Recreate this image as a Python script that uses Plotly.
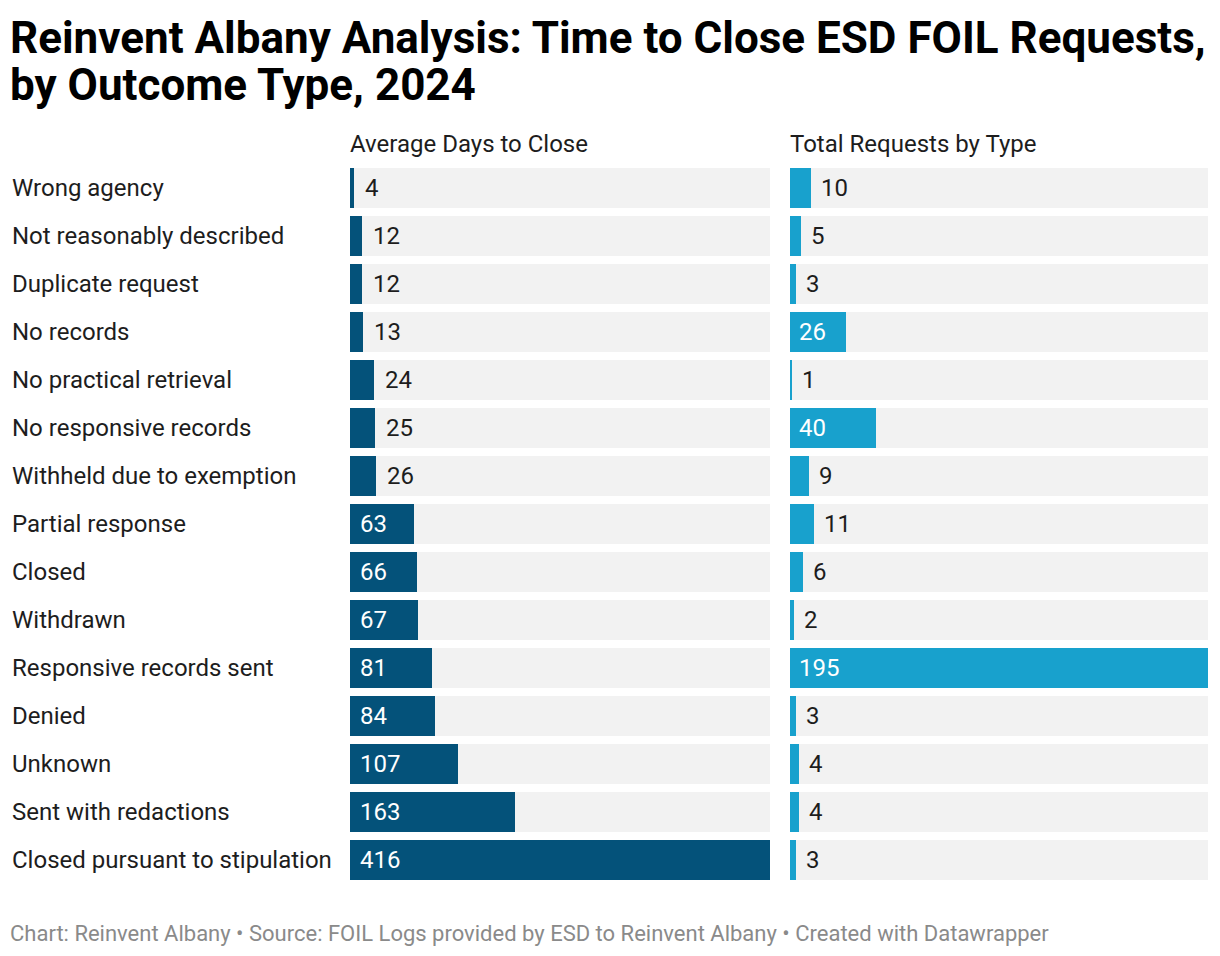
import plotly.graph_objects as go

categories = ["Wrong agency", "Not reasonably described", "Duplicate request", "No records",
              "No practical retrieval", "No responsive records", "Withheld due to exemption",
              "Partial response", "Closed", "Withdrawn", "Responsive records sent", "Denied",
              "Unknown", "Sent with redactions", "Closed pursuant to stipulation"]
avg_days = [4, 12, 12, 13, 24, 25, 26, 63, 66, 67, 81, 84, 107, 163, 416]
total_requests = [10, 5, 3, 26, 1, 40, 9, 11, 6, 2, 195, 3, 4, 4, 3]

DARK = "#04527a"
LIGHT = "#18a1cd"
BG = "#f2f2f2"
TXT = "#1d1d1d"
FONT = "Roboto"
LSIZE = 24

W, H = 1220, 956
fig = go.Figure()

y_top_px, y_bot_px = 164, 884
ydom = [1 - y_bot_px / H, 1 - y_top_px / H]
x1dom = [350 / W, 770 / W]
x2dom = [790 / W, 1208 / W]

max1 = max(avg_days)
max2 = max(total_requests)

fig.add_trace(go.Bar(y=categories, x=[max1] * len(categories), orientation="h",
                     marker=dict(color=BG, line=dict(width=0)), width=0.833,
                     xaxis="x", yaxis="y", hoverinfo="skip", showlegend=False))
fig.add_trace(go.Bar(y=categories, x=avg_days, orientation="h",
                     marker=dict(color=DARK, line=dict(width=0)), width=0.833,
                     xaxis="x", yaxis="y", showlegend=False))
fig.add_trace(go.Bar(y=categories, x=[max2] * len(categories), orientation="h",
                     marker=dict(color=BG, line=dict(width=0)), width=0.833,
                     xaxis="x2", yaxis="y2", hoverinfo="skip", showlegend=False))
fig.add_trace(go.Bar(y=categories, x=total_requests, orientation="h",
                     marker=dict(color=LIGHT, line=dict(width=0)), width=0.833,
                     xaxis="x2", yaxis="y2", showlegend=False))

annotations = []
for cat, v in zip(categories, avg_days):
    inside = v / max1 * 420 > 45
    annotations.append(dict(x=0 if inside else v, y=cat, xref="x", yref="y",
                            text=str(v), showarrow=False, xanchor="left",
                            xshift=8 if inside else 9,
                            font=dict(family=FONT, size=LSIZE, color="white" if inside else TXT)))
for cat, v in zip(categories, total_requests):
    inside = v / max2 * 418 > 45
    annotations.append(dict(x=0 if inside else v, y=cat, xref="x2", yref="y2",
                            text=str(v), showarrow=False, xanchor="left",
                            xshift=7 if inside else 8,
                            font=dict(family=FONT, size=LSIZE, color="white" if inside else TXT)))
for cat in categories:
    annotations.append(dict(x=10 / W, y=cat, xref="paper", yref="y", text=cat,
                            showarrow=False, xanchor="left",
                            font=dict(family=FONT, size=LSIZE, color=TXT)))

annotations += [
    dict(x=8 / W, y=1 - 38 / H, xref="paper", yref="paper", xanchor="left", yanchor="middle",
         showarrow=False, text="<b>Reinvent Albany Analysis: Time to Close ESD FOIL Requests,</b>",
         font=dict(family=FONT, size=44, color="#000000")),
    dict(x=8 / W, y=1 - 85 / H, xref="paper", yref="paper", xanchor="left", yanchor="middle",
         showarrow=False, text="<b>by Outcome Type, 2024</b>",
         font=dict(family=FONT, size=44, color="#000000")),
    dict(x=348 / W, y=1 - 144 / H, xref="paper", yref="paper", xanchor="left", yanchor="middle",
         showarrow=False, text="Average Days to Close",
         font=dict(family=FONT, size=LSIZE, color=TXT)),
    dict(x=788 / W, y=1 - 144 / H, xref="paper", yref="paper", xanchor="left", yanchor="middle",
         showarrow=False, text="Total Requests by Type",
         font=dict(family=FONT, size=LSIZE, color=TXT)),
    dict(x=8 / W, y=1 - 933 / H, xref="paper", yref="paper", xanchor="left", yanchor="middle",
         showarrow=False,
         text="Chart: Reinvent Albany • Source: FOIL Logs provided by ESD to Reinvent Albany • Created with Datawrapper",
         font=dict(family=FONT, size=22, color="#8a8a8a")),
]

yaxis_common = dict(domain=ydom, autorange=False, range=[len(categories) - 0.5, -0.5],
                    showticklabels=False, showgrid=False, zeroline=False, showline=False,
                    ticks="", type="category", categoryorder="array", categoryarray=categories)

fig.update_layout(
    width=W, height=H, margin=dict(l=0, r=0, t=0, b=0),
    paper_bgcolor="white", plot_bgcolor="white",
    barmode="overlay", bargap=0,
    xaxis=dict(domain=x1dom, range=[0, max1], showticklabels=False, showgrid=False,
               zeroline=False, showline=False, fixedrange=True),
    xaxis2=dict(domain=x2dom, range=[0, max2], showticklabels=False, showgrid=False,
                zeroline=False, showline=False, fixedrange=True),
    yaxis=dict(anchor="x", **yaxis_common),
    yaxis2=dict(anchor="x2", **yaxis_common),
    annotations=annotations,
    font=dict(family=FONT),
)

fig.write_html("out.html", config={"displayModeBar": False},
               post_script="document.body.style.margin='0';document.body.style.overflow='hidden';")
